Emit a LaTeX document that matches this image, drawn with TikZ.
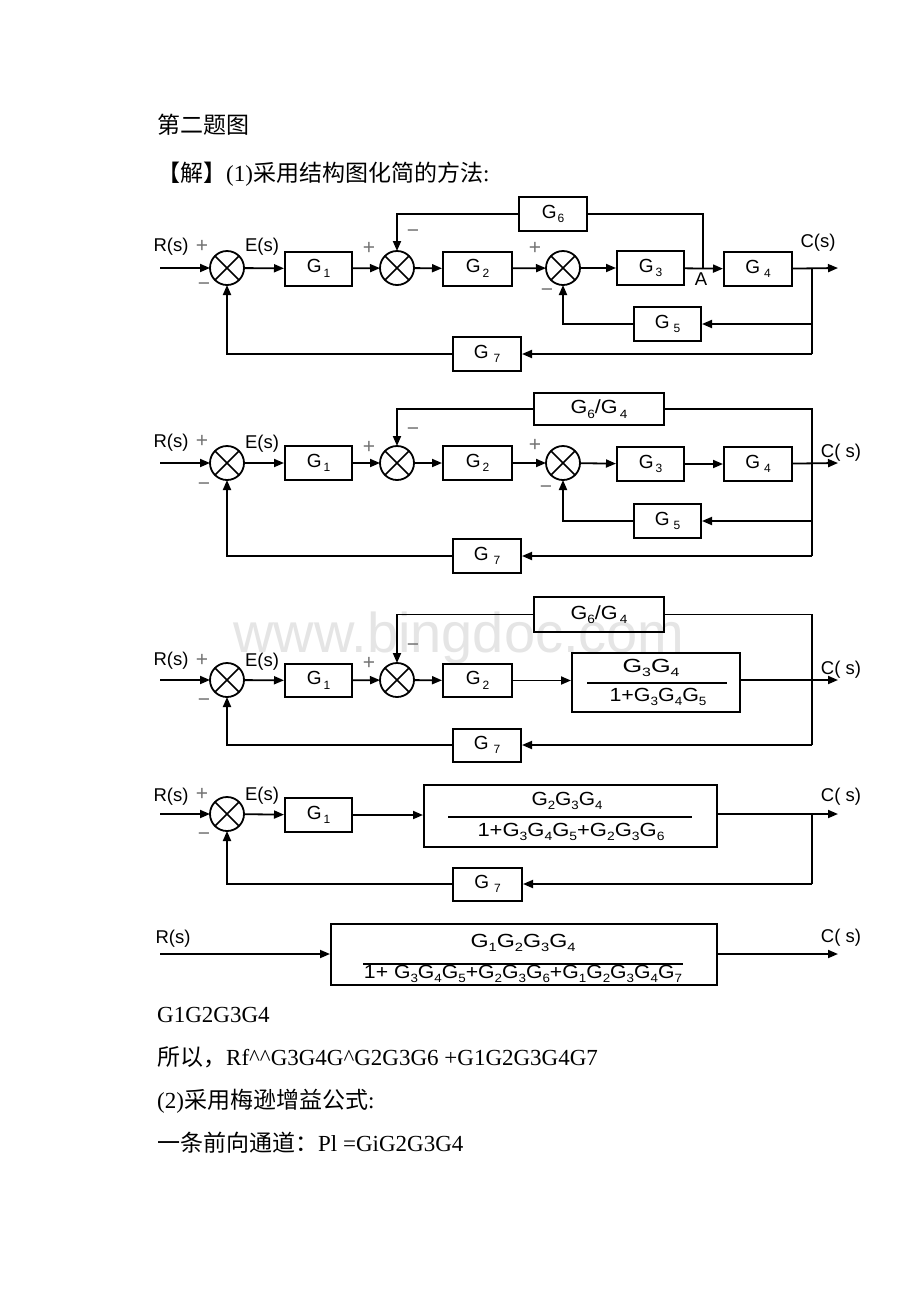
\documentclass[tikz,border=0pt]{standalone}
\usepackage{fontspec}
\setmainfont{Liberation Serif}
\newfontfamily\dsans{Liberation Sans}
\newfontfamily\cjk{Noto Sans CJK SC}
\usepackage{graphicx}
\usetikzlibrary{arrows.meta}
\newcommand\sbx[1]{\raisebox{-4.5pt}{\fontsize{12}{12}\selectfont #1}}
\newcommand\Gs[2][2pt]{G\hspace{#1}\sbx{#2}}
\newcommand\summ[2]{\node[sumc] (#1) at (#2) {};\draw[line width=1.5pt] (#1.45)--(#1.225) (#1.135)--(#1.315);}
\tikzset{
  ln/.style={line width=1.8pt},
  arr/.style={line width=1.8pt,-{Triangle[length=10pt,width=8pt]}},
  blk/.style={draw,line width=2pt,minimum height=34pt,minimum width=67pt,inner sep=0pt,font=\dsans\fontsize{19}{19}\selectfont},
  sumc/.style={draw,circle,line width=1.8pt,minimum size=34pt,inner sep=0pt,outer sep=0pt},
  lbl/.style={inner sep=0pt,font=\dsans\fontsize{18.5}{18.5}\selectfont},
  sgn/.style={inner sep=0pt,font=\dsans\fontsize{21}{21}\selectfont,text=black!55},
  frac/.style={inner sep=0pt,font=\dsans\fontsize{19}{19}\selectfont},
  txt/.style={inner sep=0pt,anchor=base west,font=\fontsize{23}{23}\selectfont},
  fline/.style={line width=1.4pt}
}
\begin{document}
\begin{tikzpicture}[x=1pt,y=-1pt]
\fill[white] (0,0) rectangle (920,1302);
\useasboundingbox (0,0) rectangle (920,1302);
% watermark
\node[inner sep=0pt,font=\dsans\fontsize{56}{56}\selectfont,text=black!10,anchor=base] (wm) at (459,652) {www.bingdoc.com};
% texts
\node[txt] (t1) at (157,133) {\cjk 第二题图};
\node[txt] (t2) at (157,181) {{\cjk 【解】}(1){\cjk 采用结构图化简的方法}:};
\node[txt] (t3) at (157,1022) {G1G2G3G4};
\node[txt] (t4) at (157,1065) {{\cjk 所以，}Rf\textasciicircum\textasciicircum G3G4G\textasciicircum G2G3G6 +G1G2G3G4G7};
\node[txt] (t5) at (157,1108) {(2){\cjk 采用梅逊增益公式}:};
\node[txt] (t6) at (157,1151) {{\cjk 一条前向通道：}Pl =GiG2G3G4};

% ================= Diagram 1
\coordinate (r1) at (160,268);
\node[lbl] (R1) at (171,247) {R(s)};
\node[sgn] (p11) at (202,246) {+};
\node[sgn] (m11) at (204,287) {−};
\summ{s11}{227,268}
\node[lbl] (E1) at (262,247) {E(s)};
\node[blk] (g11) at (318.5,268.5) {\Gs{1}};
\summ{s12}{397,268}
\node[sgn] (p12) at (369,248) {+};
\node[sgn] (m12) at (413,234) {−};
\node[blk,minimum width=69pt] (g12) at (477.5,268.5) {\Gs{2}};
\summ{s13}{563,268}
\node[sgn] (p13) at (535,248) {+};
\node[sgn] (m13) at (547,293) {−};
\node[blk] (g13) at (650.5,268) {\Gs{3}};
\coordinate (A1) at (703,268);
\node[lbl] (lA) at (701,279) {A};
\node[blk,minimum width=68pt] (g14) at (758,269) {\Gs[4pt]{4}};
\coordinate (o1) at (812,268);
\coordinate (c1) at (838,268);
\node[lbl] (C1) at (818,243) {C(s)};
\node[blk,minimum width=68pt] (g16) at (553,214) {\Gs[1pt]{6}};
\node[blk] (g15) at (667.5,324) {\Gs[4pt]{5}};
\coordinate (b1) at (812,324);
\node[blk,minimum width=68pt] (g17) at (487,354) {\Gs[5pt]{7}};
\coordinate (f1) at (812,354);
\draw[arr] (r1) -- (s11);
\draw[arr] (s11) -- (g11);
\draw[arr] (g11) -- (s12);
\draw[arr] (s12) -- (g12);
\draw[arr] (g12) -- (s13);
\draw[arr] (s13) -- (g13);
\draw[arr] (g13) -- (g14);
\draw[arr] (g14) -- (c1);
\draw[ln] (A1) |- (g16);
\draw[arr] (g16) -| (s12);
\draw[ln] (o1) -- (f1);
\draw[arr] (b1) -- (g15);
\draw[arr] (g15) -| (s13);
\draw[arr] (f1) -- (g17);
\draw[arr] (g17) -| (s11);

% ================= Diagram 2
\coordinate (r2) at (160,463);
\node[lbl] (R2) at (171,443) {R(s)};
\node[sgn] (p21) at (202,441) {+};
\node[sgn] (m21) at (204,487) {−};
\summ{s21}{227,463}
\node[lbl] (E2) at (262,444) {E(s)};
\node[blk] (g21) at (318.5,463) {\Gs{1}};
\summ{s22}{397,463}
\node[sgn] (p22) at (369,447) {+};
\node[sgn] (m22) at (413,432) {−};
\node[blk,minimum width=69pt] (g22) at (477.5,463) {\Gs{2}};
\summ{s23}{563,463}
\node[sgn] (p23) at (535,445) {+};
\node[sgn] (m23) at (546,490) {−};
\node[blk] (g23) at (650.5,464) {\Gs{3}};
\node[blk,minimum width=68pt] (g24) at (758,464) {\Gs[4pt]{4}};
\coordinate (c2) at (838,463);
\node[lbl] (C2) at (841,453) {C( s)};
\node[blk,minimum width=130pt,minimum height=32pt] (g26) at (599,409) {\resizebox{57pt}{\height}{G\sbx{6}/G\hspace{2pt}\sbx{4}}};
\node[blk] (g25) at (667.5,521) {\Gs[4pt]{5}};
\coordinate (b2) at (812,521);
\node[blk,minimum width=68pt] (g27) at (487,556) {\Gs[5pt]{7}};
\coordinate (f2) at (812,556);
\draw[arr] (r2) -- (s21);
\draw[arr] (s21) -- (g21);
\draw[arr] (g21) -- (s22);
\draw[arr] (s22) -- (g22);
\draw[arr] (g22) -- (s23);
\draw[arr] (s23) -- (g23);
\draw[arr] (g23) -- (g24);
\draw[arr] (g24) -- (c2);
\draw[arr] (g26) -| (s22);
\draw[ln] (g26) -| (f2);
\draw[arr] (b2) -- (g25);
\draw[arr] (g25) -| (s23);
\draw[arr] (f2) -- (g27);
\draw[arr] (g27) -| (s21);

% ================= Diagram 3
\coordinate (r3) at (160,680);
\node[lbl] (R3) at (171,661) {R(s)};
\node[sgn] (p31) at (202,660) {+};
\node[sgn] (m31) at (204,703) {−};
\summ{s31}{227,680}
\node[lbl] (E3) at (262,662) {E(s)};
\node[blk,minimum height=33pt] (g31) at (318.5,680.5) {\Gs{1}};
\summ{s32}{397,680}
\node[sgn] (p32) at (369,663) {+};
\node[sgn] (m32) at (413,648) {−};
\node[blk,minimum width=69pt,minimum height=33pt] (g32) at (477.5,680.5) {\Gs{2}};
\node[blk,minimum width=168pt,minimum height=59pt] (g3b) at (656,682.5) {};
\node[frac] (n3) at (651,668) {\resizebox{57pt}{\height}{G\sbx{3}G\sbx{4}}};
\node[frac] (d3) at (658,697) {\resizebox{97pt}{\height}{1+G\sbx{3}G\sbx{4}G\sbx{5}}};
\draw[fline] (587,683) -- (727,683);
\coordinate (c3) at (838,680);
\node[lbl] (C3) at (841,670) {C( s)};
\node[blk,minimum width=130pt,minimum height=35pt] (g36) at (599,614.5) {\resizebox{57pt}{\height}{G\sbx{6}/G\hspace{2pt}\sbx{4}}};
\node[blk,minimum width=68pt,minimum height=33pt] (g37) at (487,745) {\Gs[5pt]{7}};
\coordinate (f3) at (812,745);
\draw[arr] (r3) -- (s31);
\draw[arr] (s31) -- (g31);
\draw[arr] (g31) -- (s32);
\draw[arr] (s32) -- (g32);
\draw[arr] (g32) -- (g32 -| g3b.west);
\draw[arr] (g3b.east |- c3) -- (c3);
\draw[arr] (g36) -| (s32);
\draw[ln] (g36) -| (f3);
\draw[arr] (f3) -- (g37);
\draw[arr] (g37) -| (s31);

% ================= Diagram 4
\coordinate (r4) at (160,814);
\node[lbl] (R4) at (171,797) {R(s)};
\node[sgn] (p41) at (202,794) {+};
\node[sgn] (m41) at (204,837) {−};
\summ{s41}{227,814}
\node[lbl] (E4) at (262,796) {E(s)};
\node[blk] (g41) at (318.5,815) {\Gs{1}};
\node[blk,minimum width=293pt,minimum height=62pt] (g4b) at (570.5,816) {};
\node[frac] (n4) at (567,801) {\resizebox{71pt}{\height}{G\sbx{2}G\sbx{3}G\sbx{4}}};
\node[frac] (d4) at (571,832) {\resizebox{187pt}{\height}{1+G\sbx{3}G\sbx{4}G\sbx{5}+G\sbx{2}G\sbx{3}G\sbx{6}}};
\draw[fline] (448,817) -- (692,817);
\coordinate (o4) at (812,814);
\coordinate (c4) at (838,814);
\node[lbl] (C4) at (841,797) {C( s)};
\node[blk,minimum width=69pt,minimum height=33pt] (g47) at (487.5,884) {\Gs[5pt]{7}};
\coordinate (f4) at (812,884);
\draw[arr] (r4) -- (s41);
\draw[arr] (s41) -- (g41);
\draw[arr] (g41) -- (g41 -| g4b.west);
\draw[arr] (g4b.east |- c4) -- (c4);
\draw[ln] (o4) -- (f4);
\draw[arr] (f4) -- (g47);
\draw[arr] (g47) -| (s41);

% ================= Diagram 5
\coordinate (r5) at (160,954);
\node[lbl] (R5) at (173,939) {R(s)};
\node[blk,minimum width=386pt,minimum height=61pt] (g5b) at (524,954) {};
\node[frac] (n5) at (523,943) {\resizebox{105pt}{\height}{G\sbx{1}G\sbx{2}G\sbx{3}G\sbx{4}}};
\node[frac] (d5) at (523,974) {\resizebox{318pt}{\height}{1+ G\sbx{3}G\sbx{4}G\sbx{5}+G\sbx{2}G\sbx{3}G\sbx{6}+G\sbx{1}G\sbx{2}G\sbx{3}G\sbx{4}G\sbx{7}}};
\draw[fline] (363,964) -- (683,964);
\coordinate (c5) at (838,954);
\node[lbl] (C5) at (841,938) {C( s)};
\draw[arr] (r5) -- (g5b);
\draw[arr] (g5b) -- (c5);
\end{tikzpicture}
\end{document}
